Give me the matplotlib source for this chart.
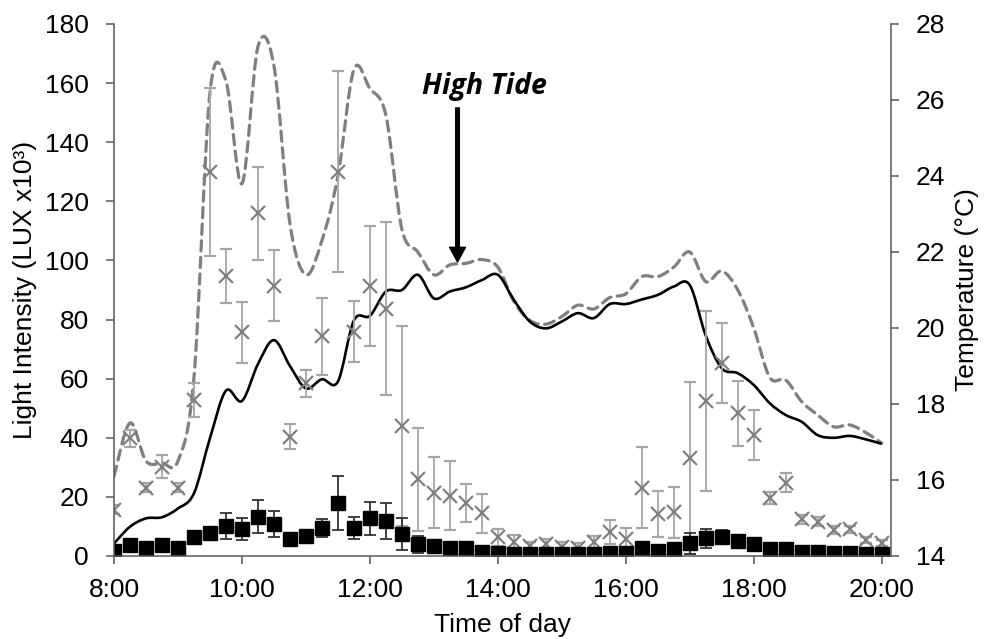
import numpy as np
import matplotlib
matplotlib.use('Agg')
import matplotlib.pyplot as plt
from matplotlib.path import Path
from matplotlib.patches import PathPatch

plt.rcParams['font.family'] = ['Liberation Sans', 'DejaVu Sans']

# Sampling times (every 15 min)
times = ["8:00", "8:15", "8:30", "8:45", "9:00", "9:15", "9:30", "9:45",
         "10:00", "10:15", "10:30", "10:45", "11:00", "11:15", "11:30", "11:45",
         "12:00", "12:15", "12:30", "12:45", "13:00", "13:15", "13:30", "13:45",
         "14:00", "14:15", "14:30", "14:45", "15:00", "15:15", "15:30", "15:45",
         "16:00", "16:15", "16:30", "16:45", "17:00", "17:15", "17:30", "17:45",
         "18:00", "18:15", "18:30", "18:45", "19:00", "19:15", "19:30", "19:45",
         "20:00"]

# Light intensity, grey crosses (LUX x10^3) and error bars
light_a = [15.6, 39.8, 23.1, 30.2, 23.1, 52.8, 130.0, 94.7,
           75.7, 115.9, 91.4, 40.4, 58.4, 74.4, 130.0, 75.9,
           91.4, 83.6, 44.0, 25.9, 21.4, 20.4, 18.0, 14.4,
           6.3, 4.6, 3.4, 3.9, 3.2, 2.8, 4.6, 8.2,
           5.7, 23.1, 14.1, 14.8, 33.0, 52.5, 65.3, 48.3,
           41.0, 19.5, 24.8, 12.4, 11.6, 8.8, 9.0, 5.4,
           4.5]
light_a_err = [1.5, 2.8, 1.5, 3.8, 1.5, 5.7, 28.5, 9.1,
               10.4, 15.6, 12.0, 4.2, 4.5, 13.0, 34.0, 10.3,
               20.4, 29.3, 33.8, 17.4, 12.0, 11.7, 6.4, 6.7,
               3.0, 2.5, 1.5, 2.0, 1.5, 1.5, 2.0, 4.0,
               3.7, 13.7, 7.8, 8.6, 26.0, 30.5, 13.4, 11.0,
               8.4, 2.0, 3.2, 1.5, 1.5, 1.2, 1.2, 1.0,
               1.0]
light_a_err_low = list(light_a_err)
light_a_err_low[36] = 32.3   # 17:00 bar runs down to the axis

# Light intensity, black squares
light_b = [1.8, 3.7, 2.6, 3.7, 2.6, 6.3, 7.7, 10.3,
           9.1, 13.3, 10.8, 5.6, 6.8, 9.4, 18.0, 9.4,
           12.7, 11.9, 7.4, 3.9, 3.4, 2.6, 2.6, 1.2,
           0.9, 0.6, 0.6, 0.6, 0.6, 0.6, 0.6, 0.9,
           0.9, 2.6, 1.8, 2.3, 4.3, 6.0, 6.5, 5.2,
           4.0, 2.3, 2.5, 1.2, 1.2, 1.0, 1.0, 0.8,
           0.8]
light_b_err = [0.5, 0.5, 0.5, 0.5, 0.5, 2.3, 2.0, 4.4,
               3.8, 5.5, 4.4, 1.0, 1.0, 3.1, 9.1, 3.8,
               5.6, 6.1, 5.4, 2.8, 2.0, 1.0, 1.0, 0.5,
               0.5, 0.5, 0.5, 0.5, 0.5, 0.5, 0.5, 0.5,
               0.5, 0.5, 0.5, 0.5, 3.6, 3.2, 2.2, 1.0,
               0.8, 0.5, 0.5, 0.5, 0.5, 0.5, 0.5, 0.5,
               0.5]

# Temperature (deg C): dashed grey and solid black
temp_a = [16.1, 17.5, 16.5, 16.45, 16.5, 18.7, 26.2, 26.5,
          23.8, 27.4, 26.9, 22.75, 21.4, 22.3, 24.0, 26.8,
          26.3, 25.6, 22.6, 22.0, 21.4, 21.66, 21.7, 21.8,
          21.6, 20.7, 20.2, 20.1, 20.3, 20.6, 20.5, 20.8,
          20.9, 21.35, 21.35, 21.6, 22.0, 21.22, 21.5, 21.0,
          20.0, 18.7, 18.63, 18.06, 17.71, 17.4, 17.45, 17.25,
          16.97]
temp_b = [14.33, 14.77, 14.99, 15.02, 15.25, 15.65, 17.1, 18.35,
          18.08, 19.05, 19.68, 19.0, 18.41, 18.65, 18.59, 20.2,
          20.32, 20.96, 21.0, 21.4, 20.78, 20.96, 21.07, 21.26,
          21.4, 20.74, 20.17, 19.99, 20.17, 20.39, 20.26, 20.63,
          20.63, 20.75, 20.87, 21.09, 21.13, 19.8, 18.94, 18.81,
          18.5, 18.02, 17.71, 17.53, 17.18, 17.11, 17.16, 17.07,
          16.95]

tick_hours = [8, 10, 12, 14, 16, 18, 20]
tick_labels = ["8:00", "10:00", "12:00", "14:00", "16:00", "18:00", "20:00"]

t = np.array([int(s.split(":")[0]) + int(s.split(":")[1]) / 60 for s in times])


def smooth_path(x, y):
    # Excel-style smoothed line: cubic Bezier segments through every point
    x = np.asarray(x, float)
    y = np.asarray(y, float)
    n = len(x)
    verts = [(x[0], y[0])]
    codes = [Path.MOVETO]
    for i in range(n - 1):
        a = max(i - 1, 0)
        b = min(i + 2, n - 1)
        c1 = (x[i] + (x[i + 1] - x[a]) / 6, y[i] + (y[i + 1] - y[a]) / 6)
        c2 = (x[i + 1] - (x[b] - x[i]) / 6, y[i + 1] - (y[b] - y[i]) / 6)
        verts += [c1, c2, (x[i + 1], y[i + 1])]
        codes += [Path.CURVE4] * 3
    return Path(verts, codes)


fig = plt.figure(figsize=(9.87, 6.39), dpi=100)
ax1 = fig.add_axes([0.1155, 0.1299, 0.7872, 0.8326])
ax2 = ax1.twinx()
ax1.set_zorder(ax2.get_zorder() + 1)
ax1.patch.set_visible(False)

axis_col = '#595959'
fs = 19

# Temperature lines
ax2.add_patch(PathPatch(smooth_path(t, temp_a), fill=False, edgecolor='#7f7f7f',
                        lw=2.3, linestyle=(0, (3.2, 2.0)), capstyle='round'))
ax2.add_patch(PathPatch(smooth_path(t, temp_b), fill=False, edgecolor='black',
                        lw=1.9))
ax2.set_ylim(14, 28)
ax2.set_yticks([14, 16, 18, 20, 22, 24, 26, 28])

# Light intensity
ax1.errorbar(t, light_a, yerr=[light_a_err_low, light_a_err], fmt='x',
             color='#808080', ecolor='#a6a6a6', elinewidth=1.3, capsize=4,
             capthick=1.3, ms=10, mew=1.6)
ax1.errorbar(t, light_b, yerr=light_b_err, fmt='s', color='black',
             ecolor='#333333', elinewidth=1.3, capsize=4, capthick=1.3,
             ms=9.5)

ax1.set_xlim(8, 20.145)
ax1.set_ylim(0, 180)
ax1.set_yticks(range(0, 181, 20))
ax1.set_xticks(tick_hours)
ax1.set_xticklabels(tick_labels)

for ax in (ax1, ax2):
    ax.spines['top'].set_visible(False)
    for side in ('left', 'right', 'bottom'):
        ax.spines[side].set_color(axis_col)
        ax.spines[side].set_linewidth(1.1)
    ax.tick_params(direction='out', length=6, width=1.1, color=axis_col,
                   labelsize=fs, labelcolor='black')
    ax.tick_params(axis='y', pad=12)
ax1.tick_params(axis='x', pad=10)
ax1.spines['right'].set_visible(False)
ax2.spines['left'].set_visible(False)
ax2.spines['bottom'].set_visible(False)

ax1.set_ylabel("Light Intensity (LUX x10³)", fontsize=fs, va='center')
ax1.yaxis.set_label_coords(-0.115, 0.5)
ax2.set_ylabel("Temperature (°C)", fontsize=fs, va='center', rotation=90)
ax2.yaxis.set_label_coords(1.098, 0.5)
ax1.set_xlabel("Time of day", fontsize=fs, va='center')
ax1.xaxis.set_label_coords(0.5, -0.13)

# High tide marker
ax1.annotate("", xy=(13.37, 99.5), xytext=(13.37, 151.6),
             arrowprops=dict(facecolor='black', edgecolor='black', width=2.6,
                             headwidth=11.5, headlength=10.5, shrink=0))
ax1.text(13.79, 156.3, "High Tide", ha='center', va='baseline', fontsize=20.5,
         fontweight='bold', fontstyle='italic', family=['Open Sans', 'DejaVu Sans'])

plt.savefig("out.png", dpi=100)
